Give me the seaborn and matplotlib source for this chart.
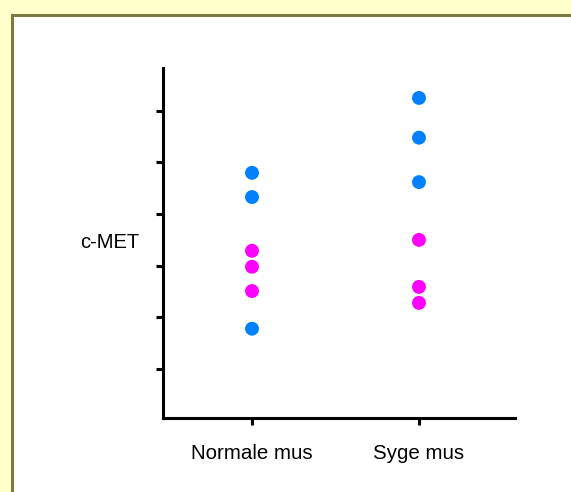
import matplotlib
matplotlib.use("Agg")
import matplotlib.pyplot as plt
import seaborn as sns
import pandas as pd
from matplotlib.patches import Rectangle

# data (arbitrary units, ticks at 1..6)
groups = ["Normale mus", "Syge mus"]
normal_blue = [4.80, 4.33, 1.78]
normal_pink = [3.29, 2.98, 2.51]
syge_blue = [6.25, 5.48, 4.62]
syge_pink = [3.50, 2.59, 2.28]
y_ticks = [1, 2, 3, 4, 5, 6]

rows = []
for g, vals, kind in [(groups[0], normal_blue, "blue"), (groups[0], normal_pink, "pink"),
                      (groups[1], syge_blue, "blue"), (groups[1], syge_pink, "pink")]:
    for v in vals:
        rows.append({"group": g, "value": v, "kind": kind})
df = pd.DataFrame(rows)

sns.set_style("white")
plt.rcParams['font.family'] = ['Liberation Sans', 'DejaVu Sans']
plt.rcParams['text.color'] = 'black'
plt.rcParams['axes.labelcolor'] = 'black'
plt.rcParams['xtick.color'] = 'black'
plt.rcParams['ytick.color'] = 'black'

fig = plt.figure(figsize=(5.71, 4.92), dpi=100)
fig.patch.set_facecolor("#FFFFCC")
# white panel with olive border
panel = Rectangle((11.5 / 571, -0.05), 1.1, 1.05 - 14.5 / 492, transform=fig.transFigure,
                  facecolor="white", edgecolor="#7A7A40", linewidth=2.2, zorder=-1)
fig.patches.append(panel)

ax = fig.add_axes([163 / 571, 1 - 418 / 492, 352 / 571, 350 / 492])
ax.set_facecolor("none")
sns.stripplot(data=df, x="group", y="value", hue="kind", order=groups,
              palette={"blue": "#0080FF", "pink": "#FF00FF"}, jitter=False,
              size=10, linewidth=0, legend=False, ax=ax, zorder=3)

ax.set_xlim(-0.533, 1.575)
ax.set_ylim(0.05, 6.83)
ax.set_yticks(y_ticks)
ax.set_yticklabels([])
ax.set_xlabel("")
ax.set_ylabel("c-MET", rotation=0, ha="center", va="center", fontsize=14.5, color="black")
ax.yaxis.set_label_coords(-0.15, 0.5)

for side in ["top", "right"]:
    ax.spines[side].set_visible(False)
for side in ["left", "bottom"]:
    ax.spines[side].set_linewidth(2.2)
    ax.spines[side].set_color("black")
ax.tick_params(axis="both", direction="out", length=5, width=2.2, color="black",
               left=True, bottom=True)
ax.tick_params(axis="x", labelsize=14.8, pad=14, labelcolor="black")

fig.savefig("out.png", dpi=100, facecolor=fig.get_facecolor())
